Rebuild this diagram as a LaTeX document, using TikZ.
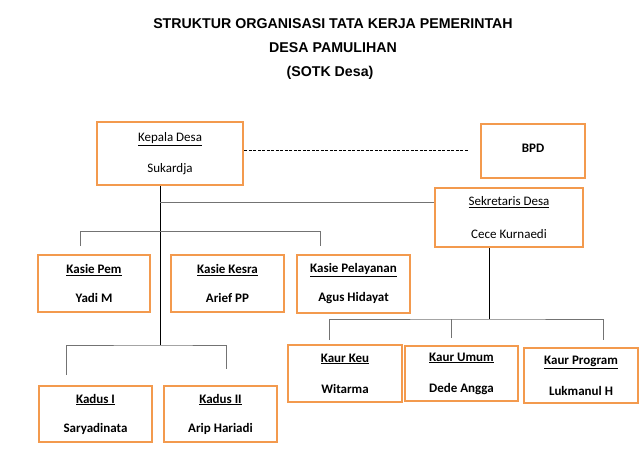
\documentclass[tikz,border=0pt]{standalone}
\usepackage{fontspec}
\setmainfont{Carlito}
\newfontfamily\judulfont{Liberation Sans}
\usetikzlibrary{positioning,calc}
\definecolor{oranye}{HTML}{F39A4E}

\begin{document}
\begin{tikzpicture}[
  x=1pt, y=-1pt,
  every node/.style={font=\fontsize{13}{15}\selectfont, align=center},
  judul/.style={font=\judulfont\bfseries\fontsize{14.2}{17}\selectfont},
  jabatan/.style={draw=oranye, line width=2.6pt, minimum width=113pt, minimum height=57pt, inner sep=0pt},
  staf/.style={jabatan, font=\fontsize{13}{15}\selectfont\bfseries},
  garis/.style={draw=black!55, line width=0.8pt},
  putus/.style={draw=black, line width=1pt, dash pattern=on 3pt off 1.5pt}
]
\useasboundingbox (0,0) rectangle (640,464);

\node[judul] (judul1) at (333,24) {STRUKTUR ORGANISASI TATA KERJA PEMERINTAH};
\node[judul] (judul2) at (333,48) {DESA PAMULIHAN};
\node[judul] (judul3) at (330,73) {(SOTK Desa)};

\node[jabatan, minimum width=146pt, minimum height=63pt] (kades) at (170,153.5) {\underline{Kepala Desa}\\[16pt]Sukardja};
\node[jabatan, minimum width=104pt, minimum height=54pt, font=\fontsize{13}{15}\selectfont\bfseries] (bpd) at (533,151) {\raisebox{6pt}{BPD}};
\node[jabatan, minimum width=148pt, minimum height=59pt] (sekdes) at (509,217.5) {\underline{Sekretaris Desa}\\[18pt]Cece Kurnaedi};

\node[staf, minimum width=112pt] (kasiepem) at (94,283.5) {\underline{Kasie Pem}\\[14pt]Yadi M};
\node[staf] (kasiekesra) at (227.5,283.5) {\underline{Kasie Kesra}\\[14pt]Arief PP};
\node[staf, minimum height=58pt] (kasiepel) at (353.5,284) {\underline{Kasie Pelayanan}\\[14pt]Agus Hidayat};

\node[staf, minimum height=56pt] (kadus1) at (95.5,414) {\underline{Kadus I}\\[14pt]Saryadinata};
\node[staf, minimum height=56pt] (kadus2) at (220.5,414) {\underline{Kadus II}\\[14pt]Arip Hariadi};

\node[staf, minimum width=114pt] (kaurkeu) at (345,373.5) {\underline{Kaur Keu}\\[16pt]Witarma};
\node[staf, minimum height=55pt] (kaurumum) at (461.5,373.5) {\underline{Kaur Umum}\\[16pt]Dede Angga};
\node[staf, minimum width=114pt, minimum height=55pt] (kaurprog) at (581,375.5) {\underline{Kaur Program}\\[16pt]Lukmanul H};

% garis kepala desa
\coordinate (ujung) at (469,150);
\draw[putus] (kades.east |- ujung) -- (ujung);
\coordinate (cabang) at (160,345);
\draw[garis, draw=black] (kades.south -| cabang) -- (cabang);
\coordinate (sambung) at (160,202);
\draw[garis] (sambung) -- (sambung -| sekdes.west);

% kasie
\coordinate (kasieL) at (80,246);
\coordinate (kasieR) at (320,246);
\draw[garis] (kasieL) -- ++(0,-15) -| (kasieR);

% kadus
\coordinate (kadusL) at (66,375);
\coordinate (kadusR) at (226,369);
\draw[garis] (kadusL) |- (cabang) -| (kadusR);

% kaur
\coordinate (kaurtitik) at (489,319);
\draw[garis, draw=black] (sekdes.south -| kaurtitik) -- (kaurtitik);
\coordinate (kaurL) at (329,340);
\coordinate (kaurM) at (451,338);
\coordinate (kaurR) at (603,340);
\draw[garis] (kaurL) |- (kaurtitik) -| (kaurR);
\draw[garis] (kaurM) -- (kaurM |- kaurtitik);

\end{tikzpicture}
\end{document}
